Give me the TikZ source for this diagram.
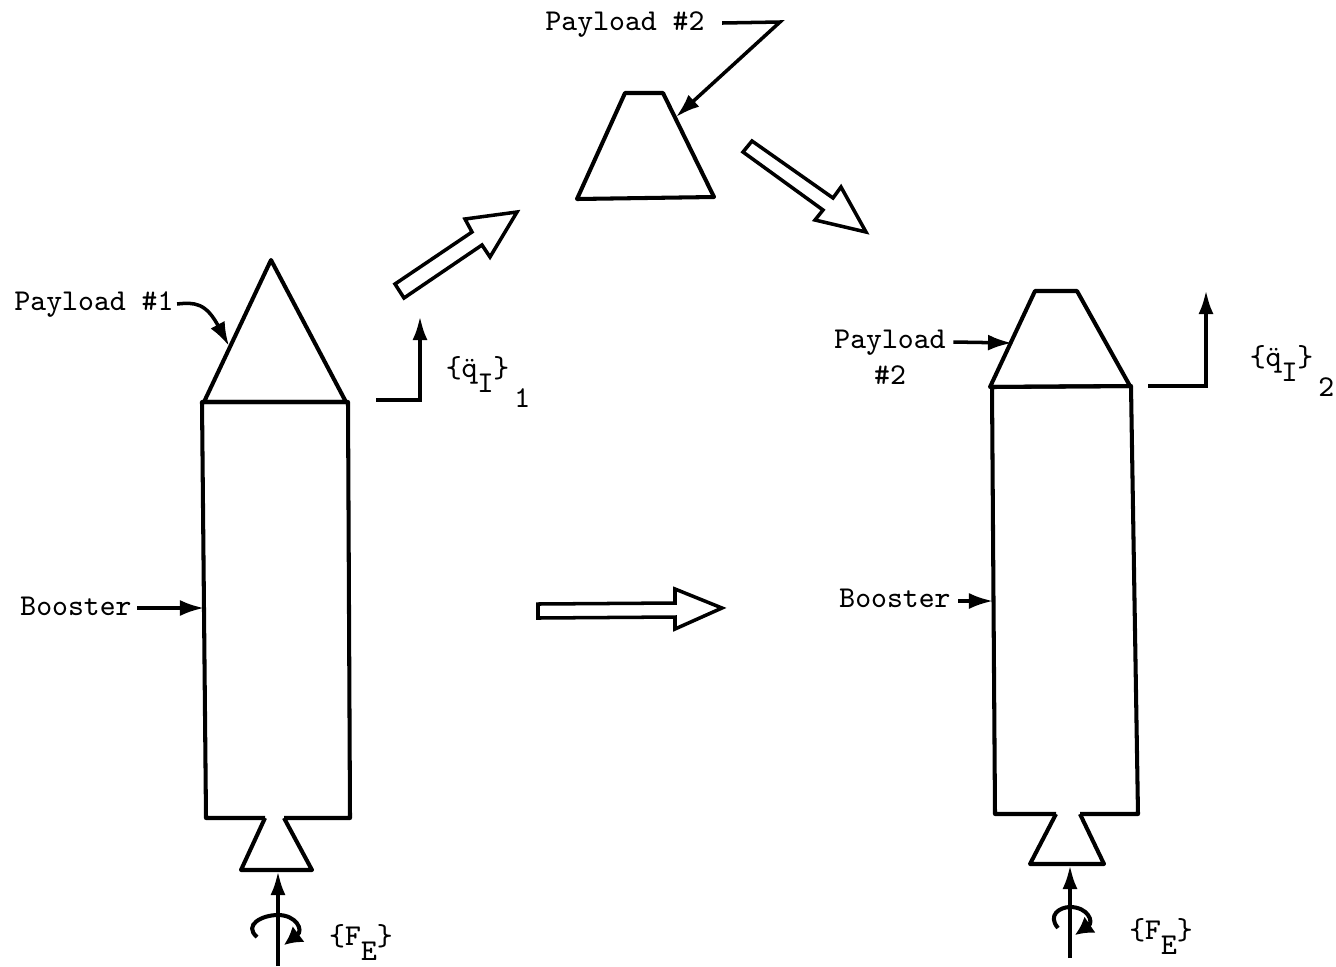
\documentclass[tikz,border=0pt]{standalone}
\usetikzlibrary{arrows.meta,positioning}
\newcommand{\subdrop}[1]{\raisebox{-1.15ex}{#1}}
\newcommand{\indexdrop}[1]{\raisebox{-2.3ex}{#1}}
\begin{document}
\begin{tikzpicture}[x=.01cm,y=-.01cm,
 outline/.style={line width=1.15pt,line join=round},
 hollow/.style={line width=1pt,line join=miter},
 lead/.style={-{Latex[length=2.4mm,width=1.6mm]},line width=1pt},
 accel/.style={-{Latex[length=2.4mm,width=1.5mm]},line width=1.15pt},
 spin/.style={-{Latex[length=1.8mm,width=2mm]},line width=1.15pt},
 lbl/.style={font=\ttfamily\fontsize{8.6}{10}\selectfont,inner sep=0pt,align=center}]
 \useasboundingbox (0,0) rectangle (1336,966);
 % left stack
 \draw[outline] (204,402)--(271,260)--(346,402)--cycle;
 \draw[outline] (265,818)--(206,818)--(202,402)--(348,402)--(350,818)--(284,818);
 \draw[outline] (265,818)--(241,870)--(312,870)--(284,818);
 \coordinate (noseL) at (229,346);
 \coordinate (wallL) at (204,608);
 \coordinate (nozL) at (278,871);
 \coordinate (forceL) at (278,966);
 % free payload
 \draw[outline] (625,93)--(663,93)--(714,197)--(577,199)--cycle;
 \coordinate (sideP) at (676,117);
 \coordinate (bendP) at (780,22);
 % right stack
 \draw[outline] (1035,291)--(1077,291)--(1130,386)--(990,387)--cycle;
 \draw[outline] (1056,814)--(995,814)--(992,387)--(1131,386)--(1138,814)--(1080,814);
 \draw[outline] (1056,814)--(1030,864)--(1104,864)--(1080,814);
 \coordinate (noseR) at (1012,343);
 \coordinate (wallR) at (993,601);
 \coordinate (nozR) at (1070,865);
 \coordinate (forceR) at (1070,958);
 % hollow arrows
 \draw[hollow] (395,284)--(404,298)--(482,245)--(490,257)--(517,212)--(465,219)--(472,232)--cycle;
 \draw[hollow] (752,141)--(743,152)--(823,210)--(815,220)--(866,232)--(841,187)--(833,198)--cycle;
 \draw[hollow] (538,604)--(538,618)--(675,617)--(675,629)--(722,608)--(675,589)--(675,603)--cycle;
 % labels
 \node[lbl] (payA) at (94,305) {Payload \#1};
 \node[lbl] (payB) at (625,25) {Payload \#2};
 \node[lbl] (payC) at (890,343) {Payload};
 \node[lbl,below=.9mm of payC] (payCnum) {\#2};
 \node[lbl] (boostL) at (76,606) {Booster};
 \node[lbl] (boostR) at (895,598) {Booster};
 \node[lbl] (qA) at (488,382) {\{\"q\subdrop{I}\}\indexdrop{\,1}};
 \node[lbl] (qB) at (1292,371) {\{\"q\subdrop{I}\}\indexdrop{\,2}};
 \node[lbl] (feA) at (361,942) {\{F\subdrop{E}\}};
 \node[lbl] (feB) at (1161,936) {\{F\subdrop{E}\}};
 % leaders
 \draw[lead] (payA.east)++(3,-1) .. controls (195,302) and (206,303) .. (noseL);
 \draw[lead] (payB.east)++(17,-2) -- (bendP) -- (sideP);
 \draw[lead] (payC.east)++(7,-1) -- (noseR);
 \draw[lead] (boostL.east)++(5,2) -- (wallL);
 \draw[lead] (boostR.east)++(7,3) -- (wallR);
 % loads
 \draw[accel] (376,400)--(420,400)--(420,316);
 \draw[accel] (1148,386)--(1206,386)--(1206,290);
 \draw[accel] (forceL)--(nozL);
 \draw[accel] (forceR)--(nozR);
 \draw[spin] (257,937) .. controls (243,925) and (262,915) .. (278,915) .. controls (296,915) and (304,930) .. (284,945);
 \draw[spin] (1058,928) .. controls (1047,915) and (1060,907) .. (1070,907) .. controls (1088,907) and (1094,922) .. (1075,935);
\end{tikzpicture}
\end{document}
